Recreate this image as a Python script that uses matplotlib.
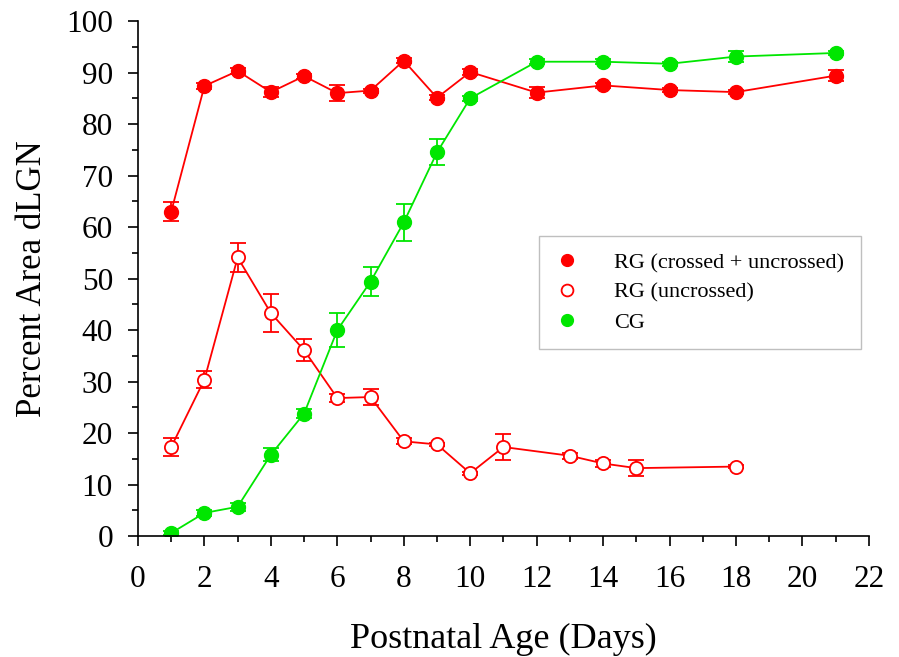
import matplotlib
matplotlib.use("Agg")
import matplotlib.pyplot as plt
from matplotlib.ticker import MultipleLocator

# ── data ──────────────────────────────────────────────────────────────────────
rg_all_x   = [1, 2, 3, 4, 5, 6, 7, 8, 9, 10, 12, 14, 16, 18, 21]
rg_all_y   = [63.0, 87.4, 90.3, 86.2, 89.3, 86.0, 86.5, 92.3, 85.1, 90.1,
              86.1, 87.5, 86.6, 86.2, 89.4]
rg_all_err = [1.8, 0.5, 0.5, 1.0, 0.5, 1.5, 0.4, 0.5, 0.5, 0.5,
              1.0, 0.5, 0.4, 0.4, 1.0]

rg_unc_x   = [1, 2, 3, 4, 5, 6, 7, 8, 9, 10, 11, 13, 14, 15, 18]
rg_unc_y   = [17.3, 30.4, 54.1, 43.3, 36.1, 26.8, 27.0, 18.4, 17.8, 12.2,
              17.3, 15.6, 14.1, 13.2, 13.5]
rg_unc_err = [1.7, 1.7, 2.8, 3.7, 2.2, 0.8, 1.5, 0.6, 0.3, 0.3,
              2.5, 0.6, 0.6, 1.5, 0.3]

cg_x   = [1, 2, 3, 4, 5, 6, 7, 8, 9, 10, 12, 14, 16, 18, 21]
cg_y   = [0.6, 4.5, 5.7, 15.8, 23.8, 40.0, 49.4, 60.9, 74.5, 85.0,
          92.1, 92.1, 91.7, 93.1, 93.8]
cg_err = [0.3, 0.5, 0.8, 1.3, 0.8, 3.3, 2.8, 3.6, 2.5, 0.5,
          0.5, 0.5, 0.4, 1.0, 0.4]

RED   = "#ff0000"
GREEN = "#00e600"

plt.rcParams["font.family"] = ["Liberation Serif", "DejaVu Serif"]

fig = plt.figure(figsize=(8.99, 6.57), dpi=100)
ax = fig.add_axes([0.1535, 0.184, 0.813, 0.784])

common = dict(lw=1.3, elinewidth=1.3, capsize=5.5, capthick=1.3)
ax.errorbar(rg_all_x, rg_all_y, yerr=rg_all_err, color=RED, marker="o",
            ms=10, mfc=RED, mec=RED, label="RG (crossed + uncrossed)", **common)
ax.errorbar(rg_unc_x, rg_unc_y, yerr=rg_unc_err, color=RED, marker="o",
            ms=9.5, mfc="white", mec=RED, mew=1.3, label="RG (uncrossed)", **common)
ax.errorbar(cg_x, cg_y, yerr=cg_err, color=GREEN, marker="o",
            ms=10, mfc=GREEN, mec=GREEN, label="CG", **common)

ax.set_xlim(0, 22)
ax.set_ylim(0, 100)
ax.xaxis.set_major_locator(MultipleLocator(2))
ax.xaxis.set_minor_locator(MultipleLocator(1))
ax.yaxis.set_major_locator(MultipleLocator(10))
ax.yaxis.set_minor_locator(MultipleLocator(5))
ax.tick_params(which="major", direction="out", length=7, width=1.2,
               labelsize=22.5)
ax.tick_params(axis="y", which="major", pad=11)
ax.tick_params(axis="x", which="major", pad=14)
ax.tick_params(which="minor", direction="out", length=4, width=1.2)
ax.spines["top"].set_visible(False)
ax.spines["right"].set_visible(False)
ax.spines["left"].set_linewidth(1.2)
ax.spines["bottom"].set_linewidth(1.2)

ax.set_xlabel("Postnatal Age (Days)", fontsize=26, labelpad=21)
ax.set_ylabel("Percent Area dLGN", fontsize=25, labelpad=12)

handles, labels = ax.get_legend_handles_labels()
handles = [h[0] for h in handles]
leg = ax.legend(handles, labels, loc="upper left",
                bbox_to_anchor=(0.549, 0.583), fontsize=16, frameon=True,
                fancybox=False, edgecolor="#b0b0b0", handlelength=1.0,
                handletextpad=1.62, borderpad=0.75, labelspacing=0.42,
                borderaxespad=0)
leg.get_frame().set_linewidth(1.0)
for h in leg.legend_handles:
    h.set_linestyle("none")
    h.set_markersize(8.5)

fig.savefig("out.png", dpi=100)
